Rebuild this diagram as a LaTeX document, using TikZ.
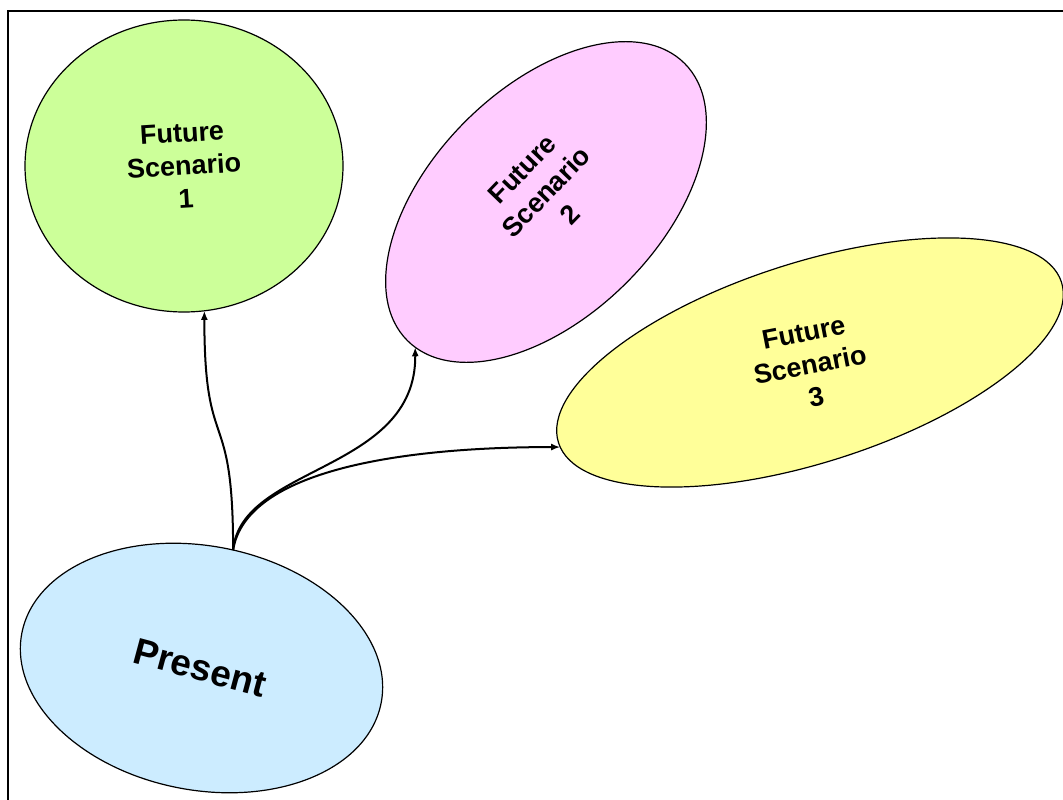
\documentclass[tikz,border=0pt]{standalone}
\usepackage{fontspec}
\setmainfont{Liberation Sans}
\usetikzlibrary{shapes.geometric,arrows.meta}
\definecolor{fgreen}{RGB}{204,255,153}
\definecolor{fpink}{RGB}{255,204,255}
\definecolor{fyellow}{RGB}{255,255,153}
\definecolor{fblue}{RGB}{204,236,255}
\begin{document}
\begin{tikzpicture}[x=1pt,y=-1pt,
  blob/.style={ellipse, draw=black, line width=1.2pt, inner sep=0pt, outer sep=0pt},
  lbl/.style={font=\bfseries\fontsize{27}{33}\selectfont, align=center, inner sep=0pt},
  conn/.style={line width=2pt, -{Latex[length=9pt,width=7pt]}}]
\clip (0,0) rectangle (1063,800);
\fill[white] (0,0) rectangle (1063,800);
\draw[line width=2pt] (7.5,810) -- (7.5,10.8) -- (1075,10.8);
\node[blob, fill=fgreen, minimum width=318pt, minimum height=292pt] (green) at (184,166) {};
\node[blob, fill=fpink, minimum width=392pt, minimum height=228pt, rotate=45] (pink) at (546,202) {};
\node[blob, fill=fyellow, minimum width=528pt, minimum height=200pt, rotate=17.7] (yellow) at (810,362.5) {};
\node[blob, fill=fblue, minimum width=366pt, minimum height=244pt, rotate=-11] (present) at (201.5,668) {};
\node[lbl, rotate=3.5] (greent) at (184,166) {Future\\Scenario\\1};
\node[lbl, rotate=46] (pinkt) at (546,192) {Future\\Scenario\\2};
\node[lbl, rotate=11] (yellowt) at (810,365) {Future\\Scenario\\3};
\node[lbl, font=\bfseries\fontsize{37}{42}\selectfont, rotate=-15] (presentt) at (200,668) {Present};
\draw[conn] (present.86.5) .. controls +(0,-150) and +(0,149) .. (green.-82.5);
\draw[conn] (present.86.5) .. controls +(8,-85) and +(1,125) .. (pink.183);
\draw[conn] (present.86.5) .. controls +(13,-80) and +(-158,0) .. (yellow.181);
\end{tikzpicture}
\end{document}
